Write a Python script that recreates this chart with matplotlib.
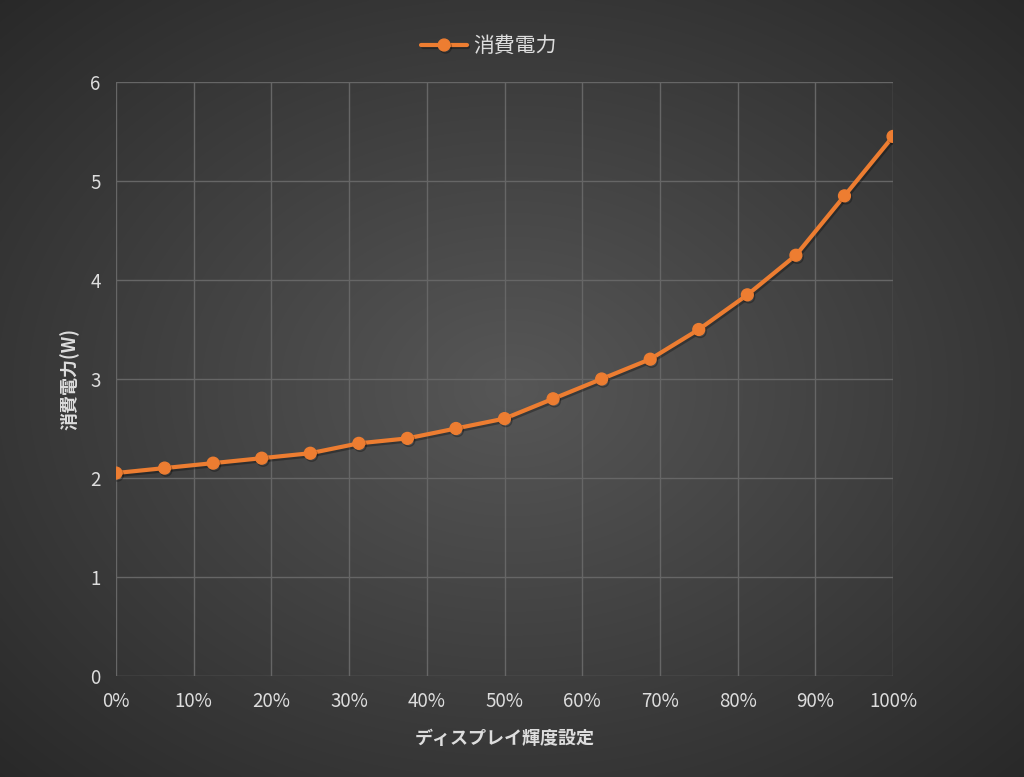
import numpy as np
import matplotlib.pyplot as plt
import matplotlib.patheffects as pe
from matplotlib.ticker import MultipleLocator, PercentFormatter

# brightness setting (%) and measured power draw (W)
brightness = [0, 6.25, 12.5, 18.75, 25, 31.25, 37.5, 43.75, 50,
              56.25, 62.5, 68.75, 75, 81.25, 87.5, 93.75, 100]
power = [2.05, 2.1, 2.15, 2.2, 2.25, 2.35, 2.4, 2.5, 2.6,
         2.8, 3.0, 3.2, 3.5, 3.85, 4.25, 4.85, 5.45]

series_name = "消費電力"
x_label = "ディスプレイ輝度設定"
y_label = "消費電力(W)"

plt.rcParams['font.family'] = ['Noto Sans CJK JP', 'DejaVu Sans']

fig = plt.figure(figsize=(10.24, 7.77), dpi=100)

# radial gradient background over the whole figure
bg = fig.add_axes([0, 0, 1, 1], zorder=-10)
yy, xx = np.mgrid[-1:1:400j, -1:1:520j]
r = np.sqrt(xx ** 2 + yy ** 2) / np.sqrt(2)
shade = 0.34 - 0.18 * r
bg.imshow(np.dstack([shade, shade, shade]), aspect='auto',
          extent=[0, 1, 0, 1], interpolation='bilinear')
bg.axis('off')

ax = fig.add_axes([0.1133, 0.13, 0.7588, 0.7645])
ax.patch.set_alpha(0)

ax.plot(brightness, power, color='#ED7D31', lw=3, marker='o',
        markersize=8.5, label=series_name, solid_capstyle='round',
        path_effects=[pe.SimpleLineShadow(offset=(1, -1.5), alpha=0.3),
                      pe.Normal()])

ax.set_xlim(0, 100)
ax.set_ylim(0, 6)
ax.xaxis.set_major_locator(MultipleLocator(10))
ax.yaxis.set_major_locator(MultipleLocator(1))
ax.xaxis.set_major_formatter(PercentFormatter(decimals=0))
ax.grid(True, color='#666666', lw=1)
ax.set_axisbelow(True)
for s in ax.spines.values():
    s.set_visible(False)
ax.tick_params(length=0, colors='#dddddd', labelsize=13.5, pad=11)

ax.set_xlabel(x_label, color='#dddddd', fontsize=13, fontweight='bold',
              labelpad=12)
ax.set_ylabel(y_label, color='#dddddd', fontsize=13, fontweight='bold',
              labelpad=8)

leg = ax.legend(loc='lower center', bbox_to_anchor=(0.48, 1.01),
                frameon=False, fontsize=15, handlelength=2.2,
                handletextpad=0.3)
for t in leg.get_texts():
    t.set_color('#dddddd')

fig.savefig('out.png', dpi=100)
